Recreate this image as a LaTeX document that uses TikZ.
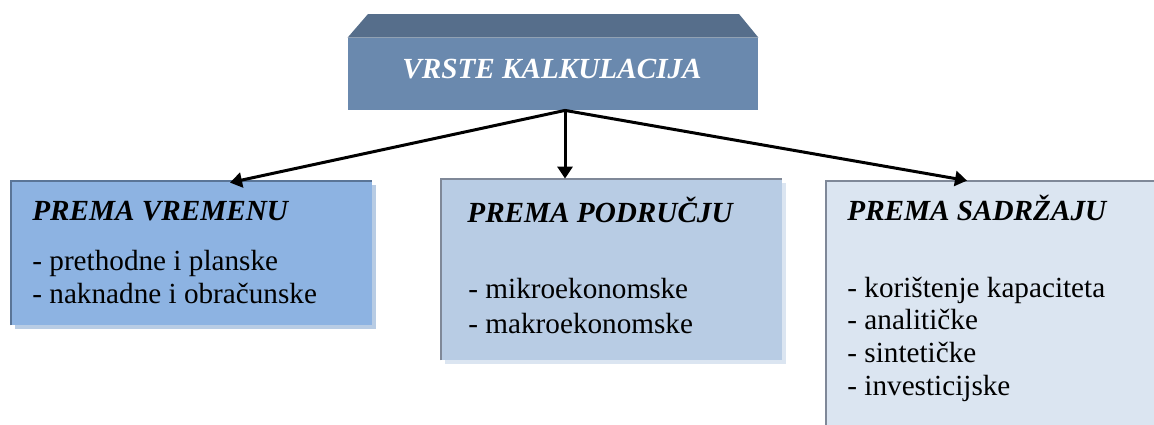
\documentclass[tikz,border=0pt]{standalone}
\usepackage{fontspec}
\setmainfont{Liberation Serif}
\usetikzlibrary{arrows.meta,shadows}

\definecolor{topface}{HTML}{6A89AE}
\definecolor{topbevel}{HTML}{566E8B}
\definecolor{fillL}{HTML}{8DB3E2}
\definecolor{fillM}{HTML}{B8CCE4}
\definecolor{fillR}{HTML}{DBE5F1}
\definecolor{edgeL}{HTML}{5A7597}
\definecolor{edgeG}{HTML}{7F8898}

\newcommand{\txtsize}{\fontsize{14.6pt}{16.5pt}\selectfont}

\begin{document}
\begin{tikzpicture}[x=0.5pt,y=-0.5pt,
  kind/.style={rectangle,inner sep=0,draw=none},
  title/.style={anchor=base west,inner sep=0,font=\txtsize\bfseries\itshape},
  item/.style={anchor=base west,inner sep=0,font=\txtsize},
  link/.style={line width=1.5pt,-{Triangle[length=6pt,width=7.5pt]}}]
\useasboundingbox (0,0) rectangle (1154,424);
\clip (0,0) rectangle (1154,424);

% top box
\node (vrste) [kind,fill=topface,minimum width=205pt,minimum height=36pt] at (553,74) {};
\fill[topbevel] (368,14) -- (739,14) -- (vrste.north east) -- (vrste.north west) -- cycle;
\node (naslov) [anchor=base,inner sep=0,text=white,font=\txtsize\bfseries\itshape] at (552,78) {VRSTE KALKULACIJA};

% three boxes
\node (vrijeme) [kind,fill=fillL,minimum width=180.5pt,minimum height=72pt,
  drop shadow={shadow xshift=2pt,shadow yshift=-2pt,fill=fillM,opacity=1}] at (191.5,253) {};
\draw[edgeL,line width=1pt] (vrijeme.south west) -- (vrijeme.north west) -- (vrijeme.north east);
\node (podrucje) [kind,fill=fillM,minimum width=170.5pt,minimum height=90.5pt,
  drop shadow={shadow xshift=2pt,shadow yshift=-2pt,fill=fillR,opacity=1}] at (611.5,269.5) {};
\draw[edgeG,line width=1pt] (podrucje.south west) -- (podrucje.north west) -- (podrucje.north east);
\node (sadrzaj) [kind,fill=fillR,minimum width=172pt,minimum height=129.5pt] at (998,310.5) {};
\draw[edgeG,line width=1pt] (sadrzaj.south west) -- (sadrzaj.north west) -- (sadrzaj.north east);

% arrows
\coordinate (fork) at ([xshift=6pt]vrste.south);
\draw[link] (fork) -- ([xshift=19.25pt,yshift=-1pt]vrijeme.north);
\draw[link] (fork) -- (fork |- podrucje.north);
\draw[link] (fork) -- ([xshift=-15.5pt]sadrzaj.north);

% texts
\node (t1) [title] at (32,220) {PREMA VREMENU};
\node (t1a) [item] at (32,270) {- prethodne i planske};
\node (t1b) [item] at (32,303) {- naknadne i obračunske};

\node (t2) [title] at (467,222) {PREMA PODRUČJU};
\node (t2a) [item] at (468,298) {- mikroekonomske};
\node (t2b) [item] at (468,333) {- makroekonomske};

\node (t3) [title] at (847,220) {PREMA SADRŽAJU};
\node (t3a) [item] at (847,297) {- korištenje kapaciteta};
\node (t3b) [item] at (847,329) {- analitičke};
\node (t3c) [item] at (847,362) {- sintetičke};
\node (t3d) [item] at (847,395) {- investicijske};
\end{tikzpicture}
\end{document}
